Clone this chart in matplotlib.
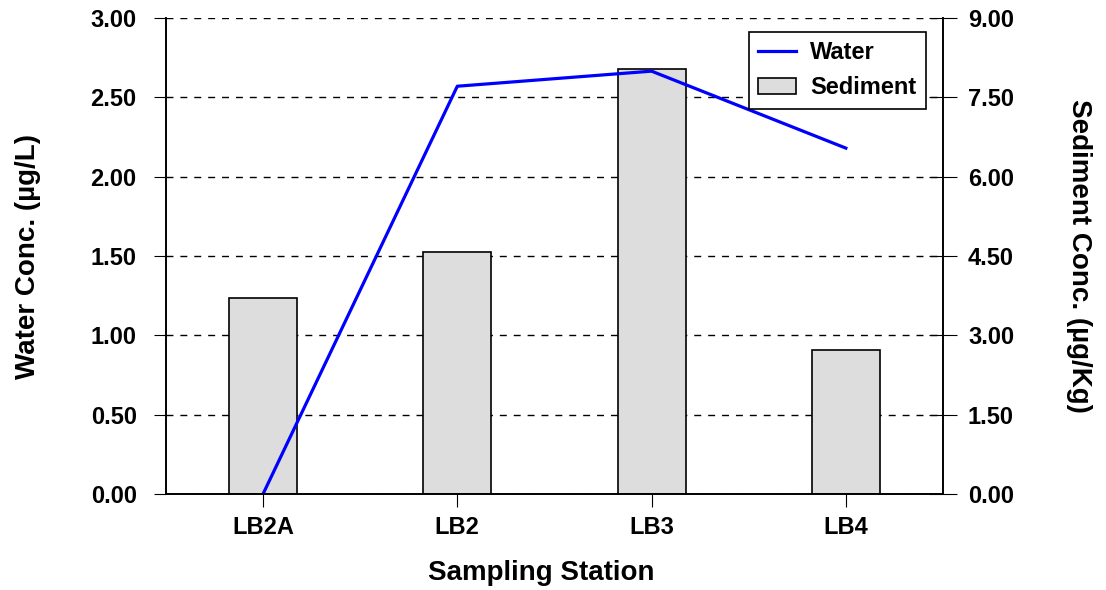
import matplotlib
matplotlib.use("Agg")
import matplotlib.pyplot as plt
from matplotlib.ticker import FormatStrFormatter

# data
stations = ["LB2A", "LB2", "LB3", "LB4"]
water = [0.0, 2.57, 2.665, 2.18]        # ug/L, left axis
sediment = [3.71, 4.58, 8.04, 2.72]     # ug/Kg, right axis

plt.rcParams['font.family'] = ['Liberation Sans', 'DejaVu Sans']
plt.rcParams['font.weight'] = 'bold'

fig = plt.figure(figsize=(11.06, 5.90), dpi=100)
# bars belong to the sediment axis, line drawn on a twin so it sits on top
ax = fig.add_axes([0.150, 0.1627, 0.7026, 0.8068])
ax2 = ax.twinx()

x = range(len(stations))
bars = ax.bar(x, sediment, width=0.35, color="#dddddd", edgecolor="black", linewidth=1.2, label="Sediment")
ax.set_ylim(0, 9)
ax.set_yticks([0, 1.5, 3, 4.5, 6, 7.5, 9])
ax.yaxis.set_major_formatter(FormatStrFormatter("%.2f"))
ax.yaxis.tick_right()
ax.yaxis.set_label_position("right")
ax.set_ylabel("Sediment Conc. (µg/Kg)", fontsize=20, fontweight="bold", rotation=270, labelpad=56)
ax.set_axisbelow(True)
ax.grid(axis="y", color="black", linestyle=(0, (5, 5)), linewidth=1.0)
ax.set_xlim(-0.5, 3.5)
ax.set_xticks(list(x))
ax.set_xticklabels(stations)
ax.set_xlabel("Sampling Station", fontsize=20, fontweight="bold")
ax.xaxis.set_label_coords(0.483, -0.138)
ax.tick_params(axis="y", direction="inout", length=20, labelsize=17, pad=8)
ax.tick_params(axis="x", direction="out", length=9, labelsize=17, pad=7)

line, = ax2.plot(x, water, color="#0000ff", linewidth=2.3, label="Water")
ax2.set_ylim(0, 3)
ax2.set_yticks([0, 0.5, 1, 1.5, 2, 2.5, 3])
ax2.yaxis.set_major_formatter(FormatStrFormatter("%.2f"))
ax2.yaxis.tick_left()
ax2.yaxis.set_label_position("left")
ax2.set_ylabel("Water Conc. (µg/L)", fontsize=20, fontweight="bold", labelpad=36)
ax2.tick_params(axis="y", direction="out", length=9, labelsize=17, pad=12)

for a in (ax, ax2):
    a.spines["top"].set_visible(False)
    for s in ("left", "right", "bottom"):
        a.spines[s].set_linewidth(1.2)

leg = ax2.legend([line, bars], ["Water", "Sediment"], loc="upper right",
                 bbox_to_anchor=(0.978, 0.9706), borderaxespad=0, fontsize=17,
                 fancybox=False, edgecolor="black", framealpha=1, handlelength=1.6,
                 borderpad=0.4, labelspacing=0.5, handletextpad=0.6)
leg.get_frame().set_linewidth(1.2)

fig.savefig("out.png", dpi=100)
